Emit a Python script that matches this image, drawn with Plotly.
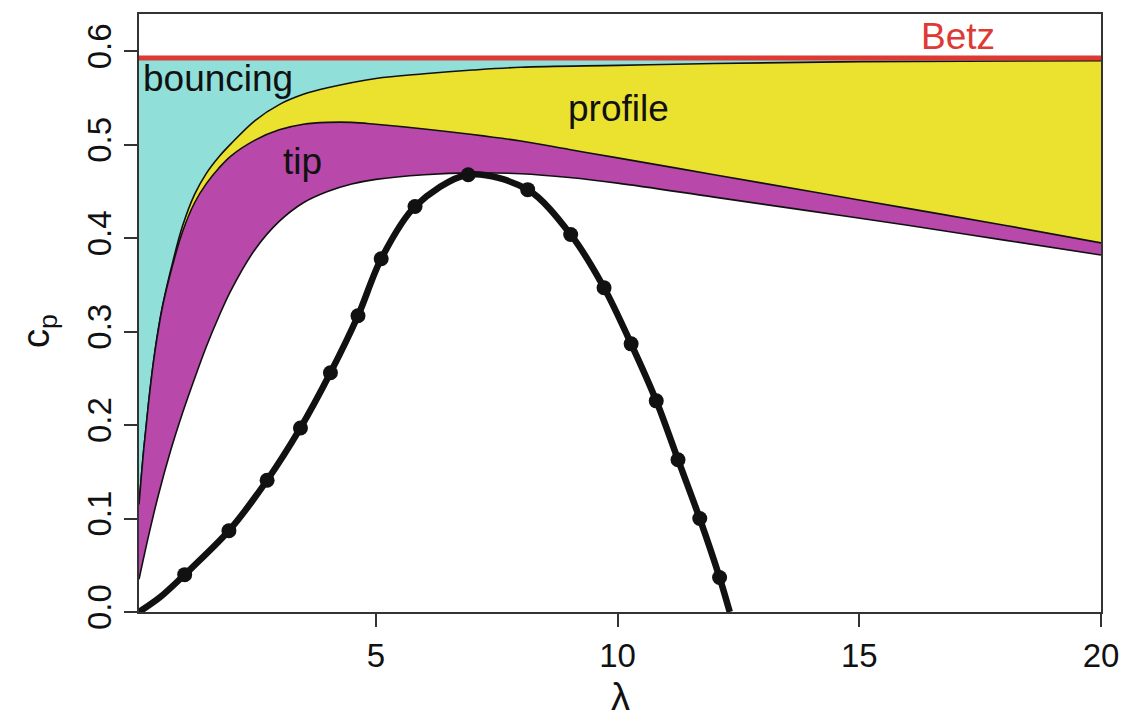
import plotly.graph_objects as go

# ---- data ----
lam_min, lam_max = 0.1, 20.0
betz = 0.593

# upper envelope (cyan / yellow boundary)
lamA = [0.1, 0.2, 0.3, 0.4, 0.5, 0.6, 0.8, 1.0, 1.25, 1.5, 1.75, 2.0, 2.5, 3.0, 3.5, 4.0, 5.0, 6.0, 7.0, 8.0, 10.0, 12.0, 15.0, 20.0]
cpA = [0.115, 0.175, 0.225, 0.268, 0.303, 0.331, 0.375, 0.413, 0.447, 0.470, 0.487, 0.501, 0.526, 0.543, 0.554, 0.561, 0.571, 0.576, 0.580, 0.583, 0.585, 0.587, 0.589, 0.590]

# middle envelope (yellow / magenta boundary)
lamB = [0.1, 0.2, 0.3, 0.4, 0.5, 0.6, 0.8, 1.0, 1.25, 1.5, 1.75, 2.0, 2.5, 3.0, 3.5, 4.0, 4.5, 5.0, 6.0, 7.0, 8.0, 9.0, 10.0, 12.0, 14.0, 16.0, 18.0, 20.0]
cpB = [0.115, 0.175, 0.225, 0.268, 0.302, 0.330, 0.372, 0.407, 0.438, 0.459, 0.475, 0.488, 0.505, 0.516, 0.522, 0.524, 0.524, 0.522, 0.517, 0.511, 0.504, 0.495, 0.486, 0.468, 0.450, 0.432, 0.414, 0.395]

# lower envelope (magenta / white boundary)
lamC = [0.1, 0.3, 0.5, 0.75, 1.0, 1.25, 1.5, 1.75, 2.0, 2.5, 3.0, 3.5, 4.0, 4.5, 5.0, 6.0, 7.0, 8.0, 9.0, 10.0, 12.0, 14.0, 16.0, 18.0, 20.0]
cpC = [0.035, 0.082, 0.125, 0.172, 0.213, 0.250, 0.285, 0.316, 0.344, 0.388, 0.418, 0.438, 0.450, 0.458, 0.463, 0.468, 0.470, 0.469, 0.465, 0.459, 0.444, 0.429, 0.414, 0.398, 0.382]

# measured rotor curve (markers)
lam_pts = [1.045, 1.96, 2.75, 3.44, 4.06, 4.63, 5.11, 5.81, 6.91, 8.14, 9.03, 9.72, 10.28, 10.80, 11.25, 11.70, 12.11]
cp_pts = [0.040, 0.087, 0.141, 0.197, 0.256, 0.317, 0.378, 0.434, 0.468, 0.452, 0.404, 0.347, 0.287, 0.226, 0.163, 0.100, 0.037]
# line ends
lam_line = [0.1, 0.54] + lam_pts + [12.32]
cp_line = [0.0, 0.016] + cp_pts + [0.0]

xticks = [5, 10, 15, 20]
yticks = [0.0, 0.1, 0.2, 0.3, 0.4, 0.5, 0.6]

FONT = "Liberation Sans, Arial, Helvetica, sans-serif"
CYAN = "#90DFD9"
YELLOW = "#EBE22F"
MAGENTA = "#B848AA"
RED = "#DE3A34"

fig = go.Figure()
fig.add_trace(go.Scatter(x=[lam_min, lam_max], y=[betz, betz], mode="lines",
                         line=dict(width=0, color="rgba(0,0,0,0)"), showlegend=False, hoverinfo="skip"))
fig.add_trace(go.Scatter(x=lamA, y=cpA, mode="lines", fill="tonexty", fillcolor=CYAN,
                         line=dict(color="#111", width=1.6, shape="spline", smoothing=1.0),
                         showlegend=False))
fig.add_trace(go.Scatter(x=lamB, y=cpB, mode="lines", fill="tonexty", fillcolor=YELLOW,
                         line=dict(color="#111", width=1.6, shape="spline", smoothing=1.0),
                         showlegend=False))
fig.add_trace(go.Scatter(x=lamC, y=cpC, mode="lines", fill="tonexty", fillcolor=MAGENTA,
                         line=dict(color="#111", width=1.6, shape="spline", smoothing=1.0),
                         showlegend=False))
fig.add_trace(go.Scatter(x=[lam_min, lam_max], y=[betz, betz], mode="lines",
                         line=dict(color=RED, width=5), showlegend=False))
fig.add_trace(go.Scatter(x=lam_line, y=cp_line, mode="lines",
                         line=dict(color="#111", width=6.5, shape="spline", smoothing=0.9),
                         showlegend=False))
fig.add_trace(go.Scatter(x=lam_pts, y=cp_pts, mode="markers",
                         marker=dict(color="#111", size=15), showlegend=False))

def label(txt, x, y, color="#111"):
    fig.add_annotation(x=x, y=y, text=txt, showarrow=False, xanchor="center", yanchor="middle",
                       font=dict(family=FONT, size=37, color=color))

fig.add_annotation(x=0.15, y=0.571, text="bouncing", showarrow=False, xanchor="left", yanchor="middle",
                   font=dict(family=FONT, size=37, color="#111"))
label("profile", 10.02, 0.539)
label("tip", 3.48, 0.482)
label("Betz", 17.05, 0.616, RED)

fig.add_annotation(xref="paper", yref="paper", x=0.5, y=-0.18, text="λ", showarrow=False,
                   xanchor="center", yanchor="bottom", font=dict(family=FONT, size=38, color="#111"))
fig.add_annotation(xref="paper", yref="paper", x=-0.104, y=0.47, text="c<sub>p</sub>", showarrow=False,
                   textangle=-90, xanchor="center", yanchor="middle",
                   font=dict(family=FONT, size=38, color="#111"))

axis_common = dict(showgrid=False, zeroline=False, showline=True, mirror=True, linewidth=2,
                   linecolor="#333", ticks="outside", ticklen=13, tickwidth=2, tickcolor="#333",
                   tickfont=dict(family=FONT, size=33, color="#111"))
fig.update_xaxes(range=[lam_min, lam_max], tickvals=xticks, ticktext=[str(v) for v in xticks], **axis_common)
fig.update_yaxes(range=[0, 0.64], tickvals=yticks, ticktext=[f"{v:.1f}" for v in yticks],
                 tickangle=-90, **axis_common)

fig.update_layout(width=1131, height=721, margin=dict(l=139, r=26, t=12, b=109),
                  plot_bgcolor="white", paper_bgcolor="white", showlegend=False)

fig.write_html("out.html")
